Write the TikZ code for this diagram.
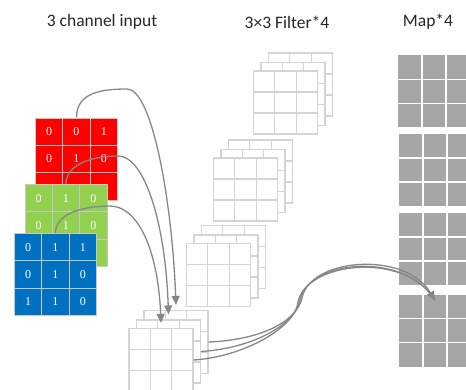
\documentclass[tikz,border=0pt]{standalone}
\usepackage{fontspec}
\setmainfont{Carlito}
\newfontfamily\numfont{Liberation Serif}
\usetikzlibrary{positioning, matrix, arrows.meta, calc}

\definecolor{inred}{RGB}{255,0,0}
\definecolor{ingreen}{RGB}{146,208,80}
\definecolor{inblue}{RGB}{0,112,192}
\definecolor{filtgray}{RGB}{212,212,212}
\definecolor{mapgray}{RGB}{166,166,166}
\definecolor{linkgray}{RGB}{135,135,135}

\tikzset{
  title/.style={font=\fontsize{17.5}{20}\selectfont, text=black!85},
  incell/.style={draw=black!22, line width=0.8pt, minimum size=27.3pt, inner sep=0pt,
    text=white, font=\numfont\fontsize{12}{14}\selectfont},
  inmat/.style={matrix of nodes, nodes in empty cells, inner sep=0pt,
    column sep=-0.8pt, row sep=-0.8pt, nodes={incell, fill=#1}},
  filtline/.style={draw=filtgray, line width=1.1pt},
  mapline/.style={draw=white, line width=1.5pt},
  grid3/.style={rectangle, inner sep=0pt, path picture={
    \foreach \k in {1,2} {
      \draw[#1] ($(path picture bounding box.north west)!\k/3!(path picture bounding box.north east)$)
        -- ($(path picture bounding box.south west)!\k/3!(path picture bounding box.south east)$);
      \draw[#1] ($(path picture bounding box.north west)!\k/3!(path picture bounding box.south west)$)
        -- ($(path picture bounding box.north east)!\k/3!(path picture bounding box.south east)$);
    }}},
  filter/.style={grid3=filtline, fill=white, filtline, minimum width=64pt, minimum height=63pt},
  mapgrid/.style={grid3=mapline, fill=mapgray, minimum width=72pt, minimum height=72pt},
  link/.style={draw=linkgray, line width=1.3pt},
  tip/.style={-{Triangle[length=9pt, width=8pt]}}
}

\begin{document}
\begin{tikzpicture}[x=1pt, y=-1pt]
\useasboundingbox (0,0) rectangle (466,390);
\clip (0,0) rectangle (466,390);

% titles
\node[title] (tin) at (102,22) {3 channel input};
\node[title] (tfil) at (287,22) {3×3 Filter*4};
\node[title] (tmap) at (428,22) {Map*4};

% input channels
\matrix (red) [inmat=inred] at (76.5,159) {
  0 & 0 & 1 \\
  0 & 1 & 0 \\
    &   &   \\
};
\matrix (green) [inmat=ingreen] at (66,225.5) {
  0 & 1 & 0 \\
  0 & 1 & 0 \\
    &   &   \\
};
\matrix (blue) [inmat=inblue] at (55.5,274.5) {
  0 & 1 & 1 \\
  0 & 1 & 0 \\
  1 & 1 & 0 \\
};

% filter stacks and result stack
\foreach \s/\x/\y in {s1/285.5/102.5, s2/245.5/189.5, s3/218.5/275, out/161/360} {
  \node[filter] (\s-c) at (\x+15,\y-18) {};
  \node[filter] (\s-b) at (\x+7.5,\y-8.5) {};
  \node[filter] (\s-a) at (\x,\y) {};
}

% maps
\foreach \m/\x/\y in {map1/434/91.5, map2/435/170, map3/435/249, map4/435/330.5}
  \node[mapgrid] (\m) at (\x,\y) {};

\coordinate (hit) at ($(map4.north)+(0,6)$);

% channels into the filter
\draw[link, tip] (red.north) .. controls +(0,-25) and +(-25,0) .. (127,89)
  .. controls +(25,0) and +(-4,-105) .. ($(out-c.north)+(0,-5)$);
\draw[link, tip] (green.north) .. controls +(0,-20) and +(-25,0) .. (118,156)
  .. controls +(27,0) and +(-3,-90) .. ($(out-b.north)+(0,-5)$);
\draw[link, tip] (blue.north) .. controls +(0,-20) and +(-25,0) .. (110,206)
  .. controls +(27,0) and +(-3,-75) .. ($(out-a.north)+(0,-5)$);

% filter into the map
\draw[link] (out-a.east) .. controls +(50,-3) and +(-2,25) .. (298,302)
  .. controls +(8,-40) and +(-30,-50) .. (hit);
\draw[link] (out-b.east) .. controls +(50,-3) and +(-4,25) .. (300,300)
  .. controls +(8,-40) and +(-30,-50) .. (hit);
\draw[link, tip] (out-c.east) .. controls +(50,-2) and +(-6,25) .. (302,298)
  .. controls +(8,-40) and +(-30,-50) .. (hit);
\end{tikzpicture}
\end{document}
